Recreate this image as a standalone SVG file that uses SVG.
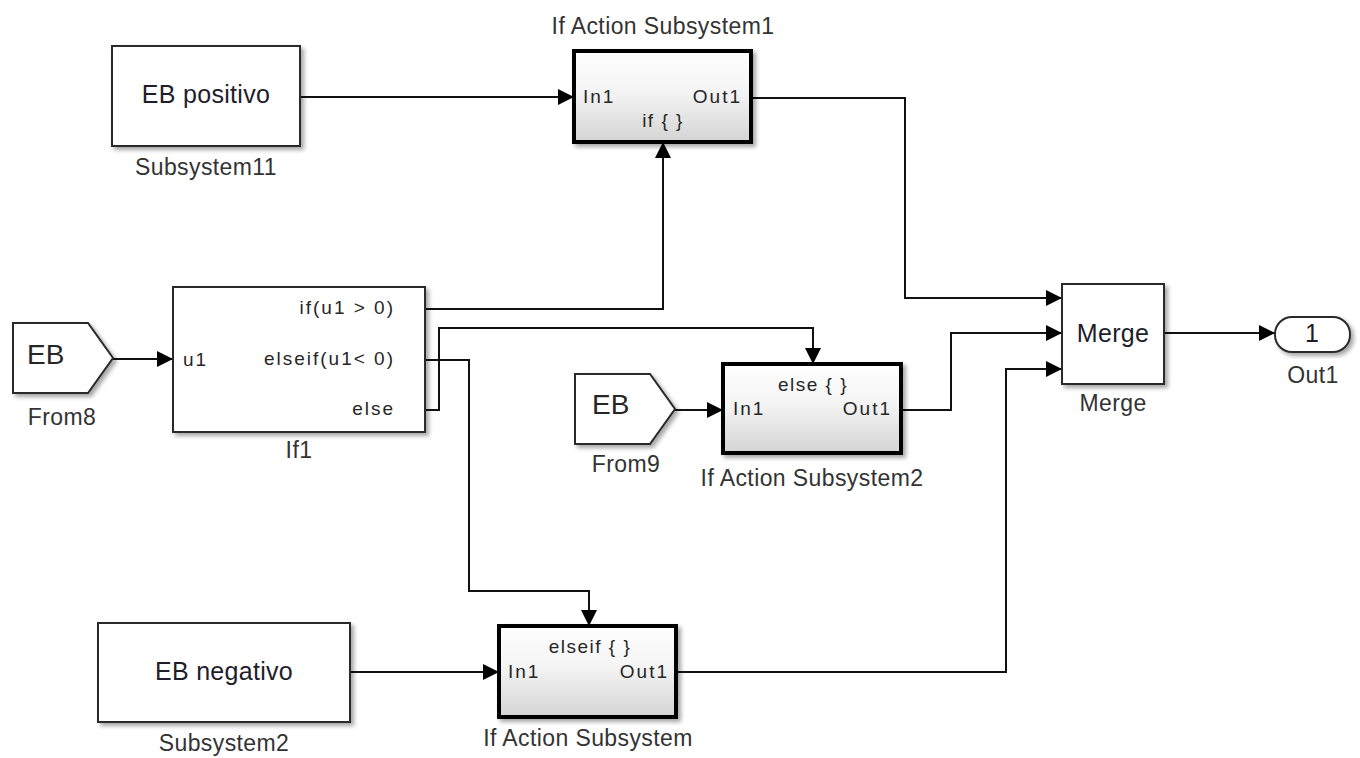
<svg xmlns="http://www.w3.org/2000/svg" width="1360" height="758" viewBox="0 0 1360 758">
  <style>
    .blk { fill: #ffffff; stroke: #2a2a2a; stroke-width: 2; filter: url(#shadow); }
    .act { fill: url(#actFill); stroke: #000000; stroke-width: 4; filter: url(#shadow); }
    .wire { fill: none; stroke: #111111; stroke-width: 2; marker-end: url(#arrow); }
    text { font-family: "Liberation Sans", Arial, sans-serif; fill: #262626; }
    .title { font-size: 23px; letter-spacing: 0.4px; text-anchor: middle; fill: #333333; }
    .inner { font-size: 25px; letter-spacing: 0.3px; text-anchor: middle; fill: #1e1e2a; }
    .port { font-size: 19px; letter-spacing: 2px; }
    .port-r { font-size: 19px; letter-spacing: 2px; text-anchor: end; }
    .port-c { font-size: 19px; letter-spacing: 1.5px; text-anchor: middle; }
    .tag { font-size: 28px; }
  </style>
  <defs>
    <linearGradient id="actFill" x1="0" y1="0" x2="0" y2="1">
      <stop offset="0" stop-color="#ffffff"/>
      <stop offset="0.45" stop-color="#f4f4f4"/>
      <stop offset="1" stop-color="#d4d4d4"/>
    </linearGradient>
    <filter id="shadow" x="-10%" y="-10%" width="125%" height="130%">
      <feDropShadow dx="3" dy="3" stdDeviation="2" flood-color="#000000" flood-opacity="0.35"/>
    </filter>
    <marker id="arrow" markerUnits="userSpaceOnUse" markerWidth="17" markerHeight="16" refX="16" refY="8" orient="auto">
      <path d="M0,0 L16,8 L0,16 Z" fill="#000000"/>
    </marker>
  </defs>

  <rect width="1360" height="758" fill="#ffffff"/>

  <!-- signal lines -->
  <g id="connectors">
    <path class="wire" d="M300,97 H574"/>
    <path class="wire" d="M113,359 H173"/>
    <path class="wire" d="M425,309 H663 V142"/>
    <path class="wire" d="M425,360 H469 V591 H589 V626"/>
    <path class="wire" d="M425,410 H439 V328 H813 V364"/>
    <path class="wire" d="M675,410 H723"/>
    <path class="wire" d="M350,672 H499"/>
    <path class="wire" d="M751,98 H905 V298 H1062"/>
    <path class="wire" d="M901,410 H951 V333 H1062"/>
    <path class="wire" d="M676,672 H1006 V369 H1062"/>
    <path class="wire" d="M1164,333 H1275"/>
  </g>

  <g id="Subsystem11">
    <rect class="blk" x="112" y="46" width="188" height="100"/>
    <text class="inner" x="206" y="103">EB positivo</text>
    <text class="title" x="206" y="175">Subsystem11</text>
  </g>

  <g id="IfActionSubsystem1">
    <text class="title" x="663" y="34">If Action Subsystem1</text>
    <rect class="act" x="574" y="51" width="177" height="91"/>
    <text class="port" x="583" y="103">In1</text>
    <text class="port-r" x="742" y="103">Out1</text>
    <text class="port-c" x="663" y="127">if { }</text>
  </g>

  <g id="From8">
    <polygon class="blk" points="13,323 88,323 113,358 88,393 13,393"/>
    <text class="tag" x="27" y="364">EB</text>
    <text class="title" x="62" y="425">From8</text>
  </g>

  <g id="If1">
    <rect class="blk" x="173" y="287" width="252" height="145"/>
    <text class="port" x="183" y="366">u1</text>
    <text class="port-r" x="395" y="314">if(u1 &gt; 0)</text>
    <text class="port-r" x="395" y="365">elseif(u1&lt; 0)</text>
    <text class="port-r" x="395" y="415">else</text>
    <text class="title" x="299" y="458">If1</text>
  </g>

  <g id="From9">
    <polygon class="blk" points="575,374 650,374 675,409 650,444 575,444"/>
    <text class="tag" x="592" y="414">EB</text>
    <text class="title" x="626" y="472">From9</text>
  </g>

  <g id="IfActionSubsystem2">
    <rect class="act" x="723" y="364" width="178" height="89"/>
    <text class="port-c" x="813" y="391">else { }</text>
    <text class="port" x="733" y="415">In1</text>
    <text class="port-r" x="892" y="415">Out1</text>
    <text class="title" x="812" y="486">If Action Subsystem2</text>
  </g>

  <g id="Merge">
    <rect class="blk" x="1062" y="284" width="102" height="100"/>
    <text class="inner" x="1113" y="342">Merge</text>
    <text class="title" x="1113" y="411">Merge</text>
  </g>

  <g id="Out1">
    <rect class="blk" x="1275" y="317" width="75" height="35" rx="17" ry="17"/>
    <text class="inner" x="1312" y="342">1</text>
    <text class="title" x="1313" y="383">Out1</text>
  </g>

  <g id="Subsystem2">
    <rect class="blk" x="98" y="623" width="252" height="99"/>
    <text class="inner" x="224" y="680">EB negativo</text>
    <text class="title" x="224" y="751">Subsystem2</text>
  </g>

  <g id="IfActionSubsystem">
    <rect class="act" x="499" y="626" width="177" height="91"/>
    <text class="port-c" x="590" y="653">elseif { }</text>
    <text class="port" x="508" y="678">In1</text>
    <text class="port-r" x="669" y="678">Out1</text>
    <text class="title" x="588" y="746">If Action Subsystem</text>
  </g>
</svg>
